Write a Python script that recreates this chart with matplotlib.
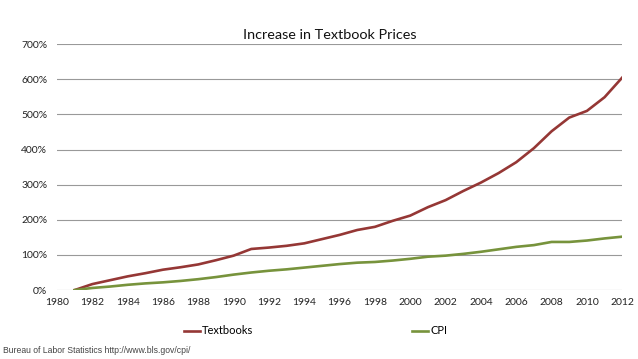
import numpy as np
import matplotlib.pyplot as plt
from matplotlib.ticker import FuncFormatter

years = list(range(1981, 2013))
textbooks = [0, 17, 28, 39, 48, 58, 65, 73, 85, 98, 117, 121, 126, 133, 145, 157,
             171, 180, 197, 212, 236, 256, 282, 306, 333, 364, 404, 452, 491, 510, 549, 605]
cpi = [0, 6, 10, 15, 19, 22, 26, 31, 37, 44, 50, 55, 59, 64, 69, 74,
       78, 80, 84, 89, 95, 98, 103, 109, 116, 123, 128, 137, 137, 141, 147, 152]
xticks = list(range(1980, 2013, 2))
yticks = list(range(0, 701, 100))

plt.rcParams["font.family"] = ["Lato", "DejaVu Sans"]

fig = plt.figure(figsize=(6.38, 3.59), dpi=100)
ax = fig.add_axes([0.0893, 0.192, 0.886, 0.685])

ax.plot(years, textbooks, color="#953735", linewidth=1.9, label="Textbooks")
ax.plot(years, cpi, color="#77933C", linewidth=1.9, label="CPI")

ax.set_xlim(1980, 2012)
ax.set_ylim(0, 700)
ax.set_xticks(xticks)
ax.set_yticks(yticks)
ax.yaxis.set_major_formatter(FuncFormatter(lambda v, p: f"{int(v)}%"))
ax.grid(axis="y", color="#999999", linewidth=0.8)
ax.set_axisbelow(True)
for s in ax.spines.values():
    s.set_visible(False)
ax.tick_params(length=0, labelsize=7.5, colors="#222222", pad=6)
ax.tick_params(axis="y", pad=7)

ax.set_title("Increase in Textbook Prices", fontsize=10.4, pad=4, color="#111111", x=0.483)

fig.legend(loc="center", bbox_to_anchor=(0.495, 0.078), ncol=2, frameon=False,
           fontsize=8, handlelength=1.45, handletextpad=0.2, columnspacing=14.3)

fig.text(0.004, 0.018, "Bureau of Labor Statistics http://www.bls.gov/cpi/",
         fontsize=6.2, color="#444444", family=["Liberation Sans", "DejaVu Sans"])

fig.savefig("out.png", dpi=100)
